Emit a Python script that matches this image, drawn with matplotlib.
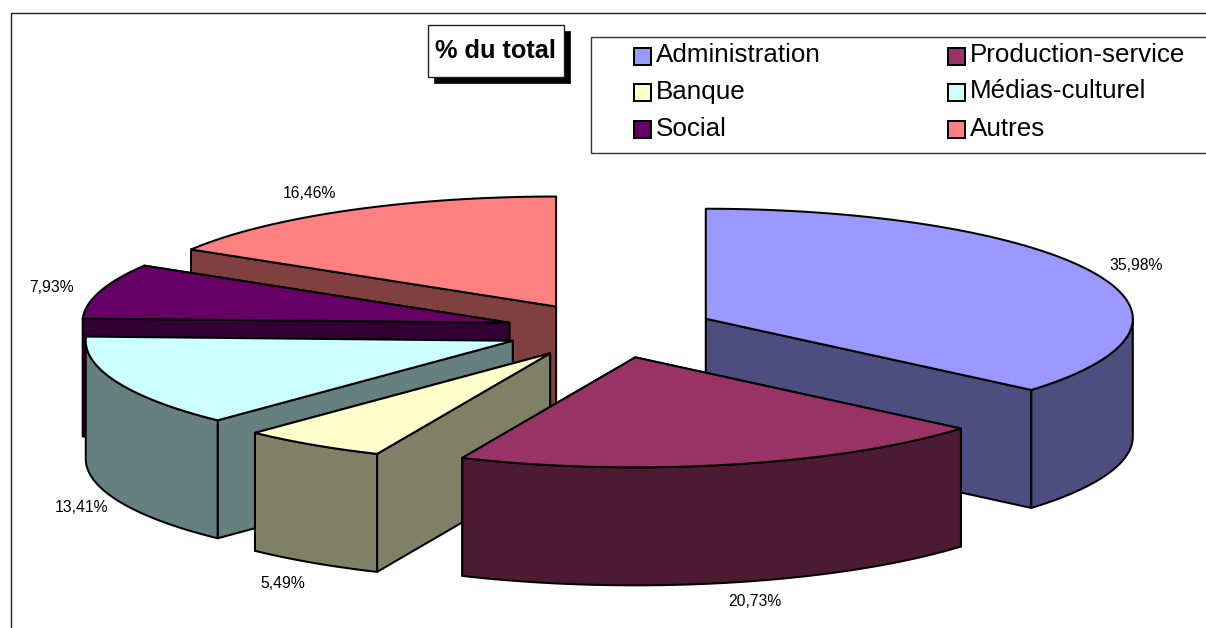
import numpy as np
import matplotlib
matplotlib.use("Agg")
import matplotlib.pyplot as plt
from matplotlib.patches import Polygon, Rectangle

categories = ["Administration", "Production-service", "Banque", "Médias-culturel", "Social", "Autres"]
values = [35.98, 20.73, 5.49, 13.41, 7.93, 16.46]
labels = ["35,98%", "20,73%", "5,49%", "13,41%", "7,93%", "16,46%"]
top_colors = ["#9999FF", "#993366", "#FFFFCC", "#CCFFFF", "#660066", "#FF8080"]
side_colors = ["#4D4D80", "#4D1A33", "#808066", "#668080", "#330033", "#804040"]

# view geometry (pixels)
CX, CY = 609.0, 330.5
RX, RY = 427.0, 110.0
DEPTH = 118.0
EXPLODE = 107.0
BOUNDARY_NUDGE = [0, -0.8, 0.25, 0.2, 0, -0.5, 0]   # degrees; the source renderer's rounding of edges
SLICE_SHIFT = [0, 2, 1, 3, 3, 0]                    # pixels; same rounding, per exploded slice
DRAW_ORDER = [5, 0, 4, 3, 2, 1]
LABEL_POS = [(1136, 265), (755, 602), (283, 583), (81, 508), (52, 287), (309, 193)]
LW = 1.45

plt.rcParams["font.family"] = ["Liberation Sans", "DejaVu Sans"]
fig = plt.figure(figsize=(12.06, 6.28), dpi=100, facecolor="white")
ax = fig.add_axes([0, 0, 1, 1])
ax.set_xlim(0, 1206)
ax.set_ylim(628, 0)
ax.axis("off")

# outer frame, clipped by the picture on the right and at the bottom
ax.add_patch(Rectangle((10.5, 13), 1300, 700, fc="white", ec="#222222", lw=1.0, zorder=0))

fractions = np.array(values) / sum(values)
edges = 90 - 360 * np.concatenate([[0], np.cumsum(fractions)])
rim_edges = edges + np.array(BOUNDARY_NUDGE)


def rim(ax0, ay0, t):
    r = np.radians(t)
    return np.column_stack([ax0 + RX * np.cos(r), ay0 - RY * np.sin(r)])


def poly(points, color, z):
    ax.add_patch(Polygon(points, closed=True, fc=color, ec="black", lw=LW, joinstyle="round", zorder=z))


z = 1
for i in DRAW_ORDER:
    mid = np.radians((edges[i] + edges[i + 1]) / 2)
    ax0 = CX + EXPLODE * np.cos(mid) + SLICE_SHIFT[i]
    ay0 = CY - EXPLODE * (RY / RX) * np.sin(mid)
    t0, t1 = rim_edges[i], rim_edges[i + 1]
    apex = np.array([ax0, ay0])
    down = np.array([0, DEPTH])

    # radial walls: farther one first
    p0 = rim(ax0, ay0, np.array([t0]))[0]
    p1 = rim(ax0, ay0, np.array([t1]))[0]
    walls = sorted([p0, p1], key=lambda p: p[1])
    for p in walls:
        poly([apex, p, p + down, apex + down], side_colors[i], z)
        z += 1

    # outer wall, only the part facing the viewer (-180..0 degrees)
    lo = max(t1, -180.0)
    hi = min(t0, 0.0)
    if hi > lo:
        ts = np.linspace(hi, lo, 80)
        arc = rim(ax0, ay0, ts)
        poly(np.vstack([arc, arc[::-1] + down]), side_colors[i], z)
        z += 1

    # top face
    ts = np.linspace(t0, t1, 160)
    poly(np.vstack([apex, rim(ax0, ay0, ts)]), top_colors[i], z)
    z += 1

for (x, y), s in zip(LABEL_POS, labels):
    ax.text(x, y, s, fontsize=11.3, ha="center", va="center", color="black", zorder=200)

# title box with shadow
ax.add_patch(Rectangle((434, 31), 136, 52, fc="black", ec="black", lw=0.5, zorder=210))
ax.add_patch(Rectangle((428, 25), 136, 52, fc="white", ec="#222222", lw=1.0, zorder=211))
ax.text(495, 50.5, "% du total", fontsize=18.3, fontweight="bold", ha="center", va="center", zorder=212)

# legend
ax.add_patch(Rectangle((591, 37), 800, 116, fc="white", ec="#333333", lw=1.0, zorder=210))
legend_x = [634, 948]
legend_y = [55, 91, 128]
for k, name in enumerate(categories):
    x = legend_x[k % 2]
    y = legend_y[k // 2]
    ax.add_patch(Rectangle((x, y - 7), 16.5, 16.5, fc=top_colors[k], ec="black", lw=LW, zorder=211))
    ax.text(x + 22, y + 0.5, name, fontsize=18.7, ha="left", va="center", zorder=212)

fig.savefig("out.png", dpi=100)
